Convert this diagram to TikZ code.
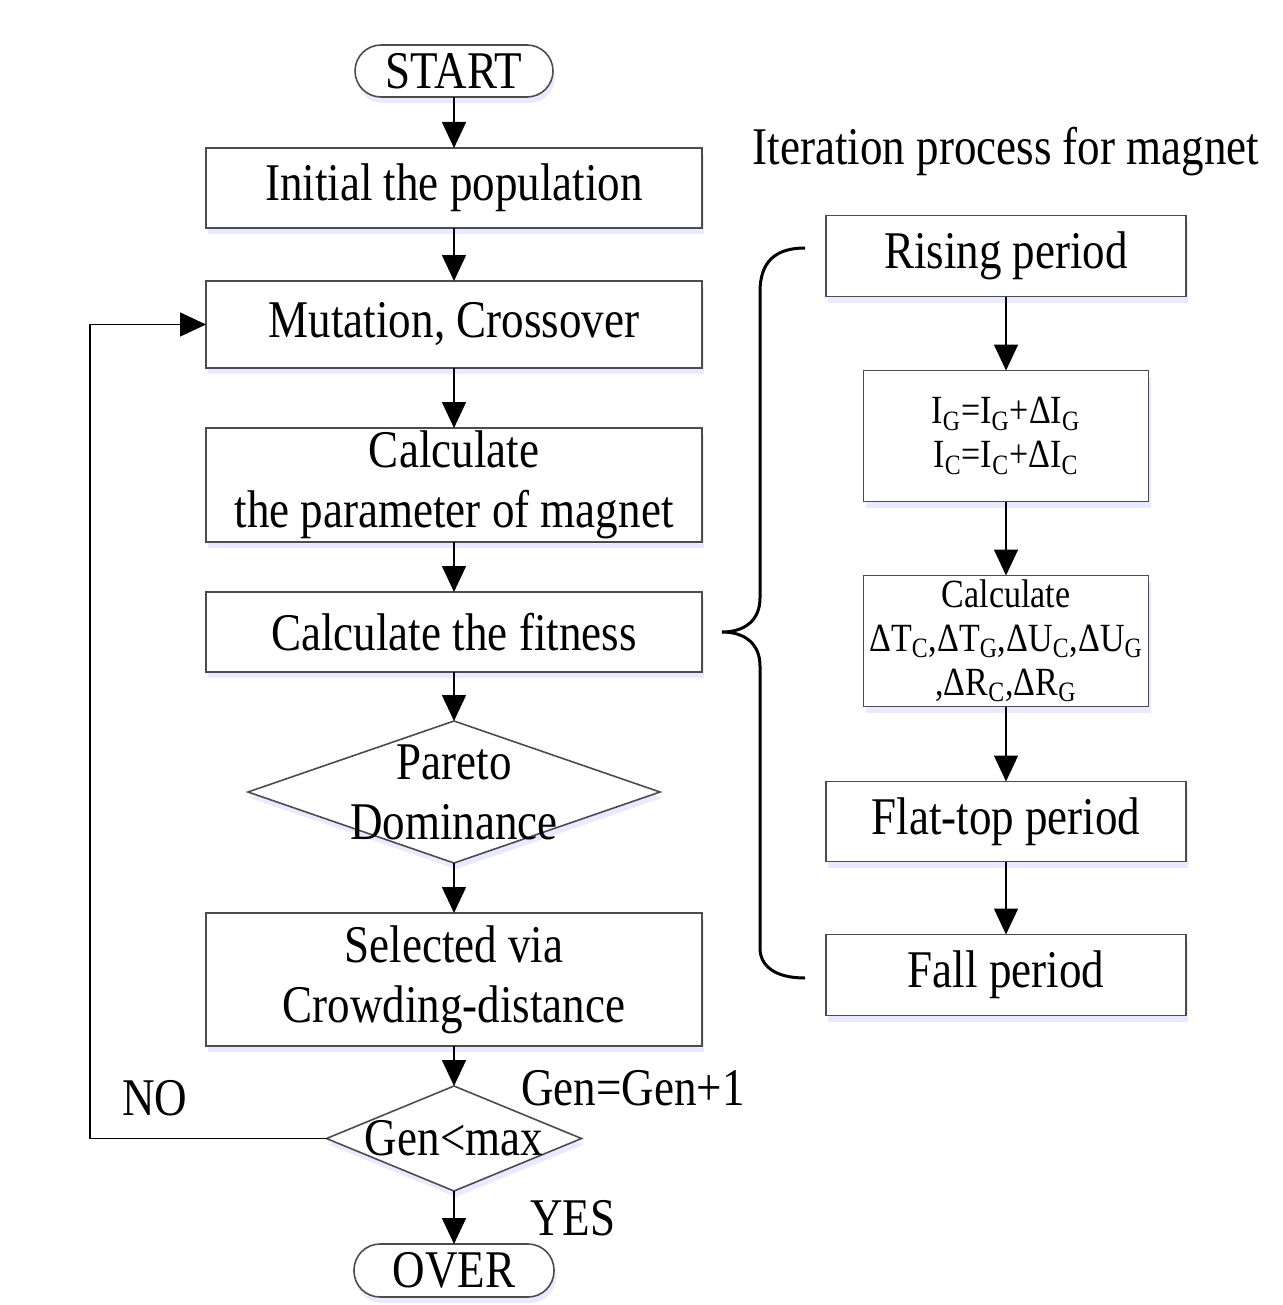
\documentclass[tikz,border=0pt]{standalone}
\usepackage{fontspec}
\setmainfont[FakeStretch=0.85]{Liberation Serif}
\usetikzlibrary{shapes.geometric,arrows.meta,positioning,shadows}

\newcommand{\mainsize}{\fontsize{26.5}{30}\selectfont}
\newcommand{\formsize}{\fontsize{20}{22}\selectfont}

\begin{document}
\begin{tikzpicture}[
    x=0.5pt, y=-0.5pt,
    node distance=25pt,
    glow/.style={drop shadow={shadow xshift=1pt, shadow yshift=-3pt, fill=blue!12, opacity=0.7}},
    box/.style={rectangle, draw=gray!60!black, line width=0.8pt, fill=white, glow, minimum width=248pt, minimum height=40pt, inner sep=1pt, outer sep=0pt, align=center, font=\mainsize},
    smallbox/.style={box, minimum width=142.5pt, minimum height=65.5pt, inner sep=0pt, font=\formsize},
    term/.style={rectangle, rounded corners=13pt, draw=gray!60!black, line width=0.8pt, fill=white, glow, minimum width=99pt, minimum height=26pt, inner sep=0pt, outer sep=0pt, font=\mainsize},
    decision/.style={diamond, draw=gray!60!black, line width=0.8pt, fill=white, glow, inner sep=0pt, outer sep=0pt},
    txt/.style={align=center, font=\mainsize},
    arrow/.style={-{Triangle[length=13pt,width=12pt]}, line width=0.8pt}
]
\useasboundingbox (0,0) rectangle (1282,1305);

% Main loop on the left
\node[term] (start) at (454,71) {START};
\node[box, below=25.5pt of start] (init) {Initial the population};
\node[box, minimum height=43.5pt, below=26.5pt of init] (mut) {Mutation, Crossover};
\node[box, minimum height=57pt, below=30pt of mut] (param) {Calculate\\the parameter of magnet};
\node[box, below=25pt of param] (fit) {Calculate the fitness};
\node[decision, minimum width=206pt, minimum height=71pt, below=24.5pt of fit] (pareto) {};
\node[txt] at (pareto) {Pareto\\Dominance};
\node[box, minimum height=66.5pt, below=25pt of pareto] (sel) {Selected via\\Crowding-distance};
\node[decision, minimum width=127.5pt, minimum height=52.5pt, below=20pt of sel] (gen) {};
\node[txt] at (gen) {Gen<max};
\node[term, minimum width=100pt, minimum height=26.5pt, below=26.5pt of gen] (over) {OVER};

% Labels of the decision
\node[txt] (no) at (155,1098) {NO};
\node[txt] (incgen) at (633,1088) {Gen=Gen+1};
\node[txt] (yes) at (573,1218) {YES};

% Iteration process on the right
\node[txt] (title) at (1006,152) {Iteration process for magnet};
\node[box, minimum width=180pt, minimum height=40.5pt] (rise) at (1006,256) {Rising period};
\node[smallbox, below=37pt of rise] (incr) {I\textsubscript{G}=I\textsubscript{G}+ΔI\textsubscript{G}\\I\textsubscript{C}=I\textsubscript{C}+ΔI\textsubscript{C}};
\node[smallbox, below=37pt of incr] (delta) {Calculate\\ΔT\textsubscript{C},ΔT\textsubscript{G},ΔU\textsubscript{C},ΔU\textsubscript{G}\\,ΔR\textsubscript{C},ΔR\textsubscript{G}};
\node[box, minimum width=180pt, below=37.5pt of delta] (flat) {Flat-top period};
\node[box, minimum width=180pt, minimum height=40.5pt, below=36.5pt of flat] (fall) {Fall period};

% Connections
\draw[arrow] (start) -- (init);
\draw[arrow] (init) -- (mut);
\draw[arrow] (mut) -- (param);
\draw[arrow] (param) -- (fit);
\draw[arrow] (fit) -- (pareto);
\draw[arrow] (pareto) -- (sel);
\draw[arrow] (sel) -- (gen);
\draw[arrow] (gen) -- (over);
\coordinate (turn) at (90,0);
\draw[arrow] (gen.west) -- (gen.west -| turn) |- (mut.west);

\draw[arrow] (rise) -- (incr);
\draw[arrow] (incr) -- (delta);
\draw[arrow] (delta) -- (flat);
\draw[arrow] (flat) -- (fall);

% Brace
\draw[line width=1.5pt] (805,248) .. controls (775,248) and (760,262) .. (760,292) -- (760,598)
    .. controls (760,620) and (745,632) .. (722,632)
    .. controls (745,632) and (760,644) .. (760,666) -- (760,948)
    .. controls (760,966) and (775,978) .. (805,978);

\end{tikzpicture}
\end{document}
